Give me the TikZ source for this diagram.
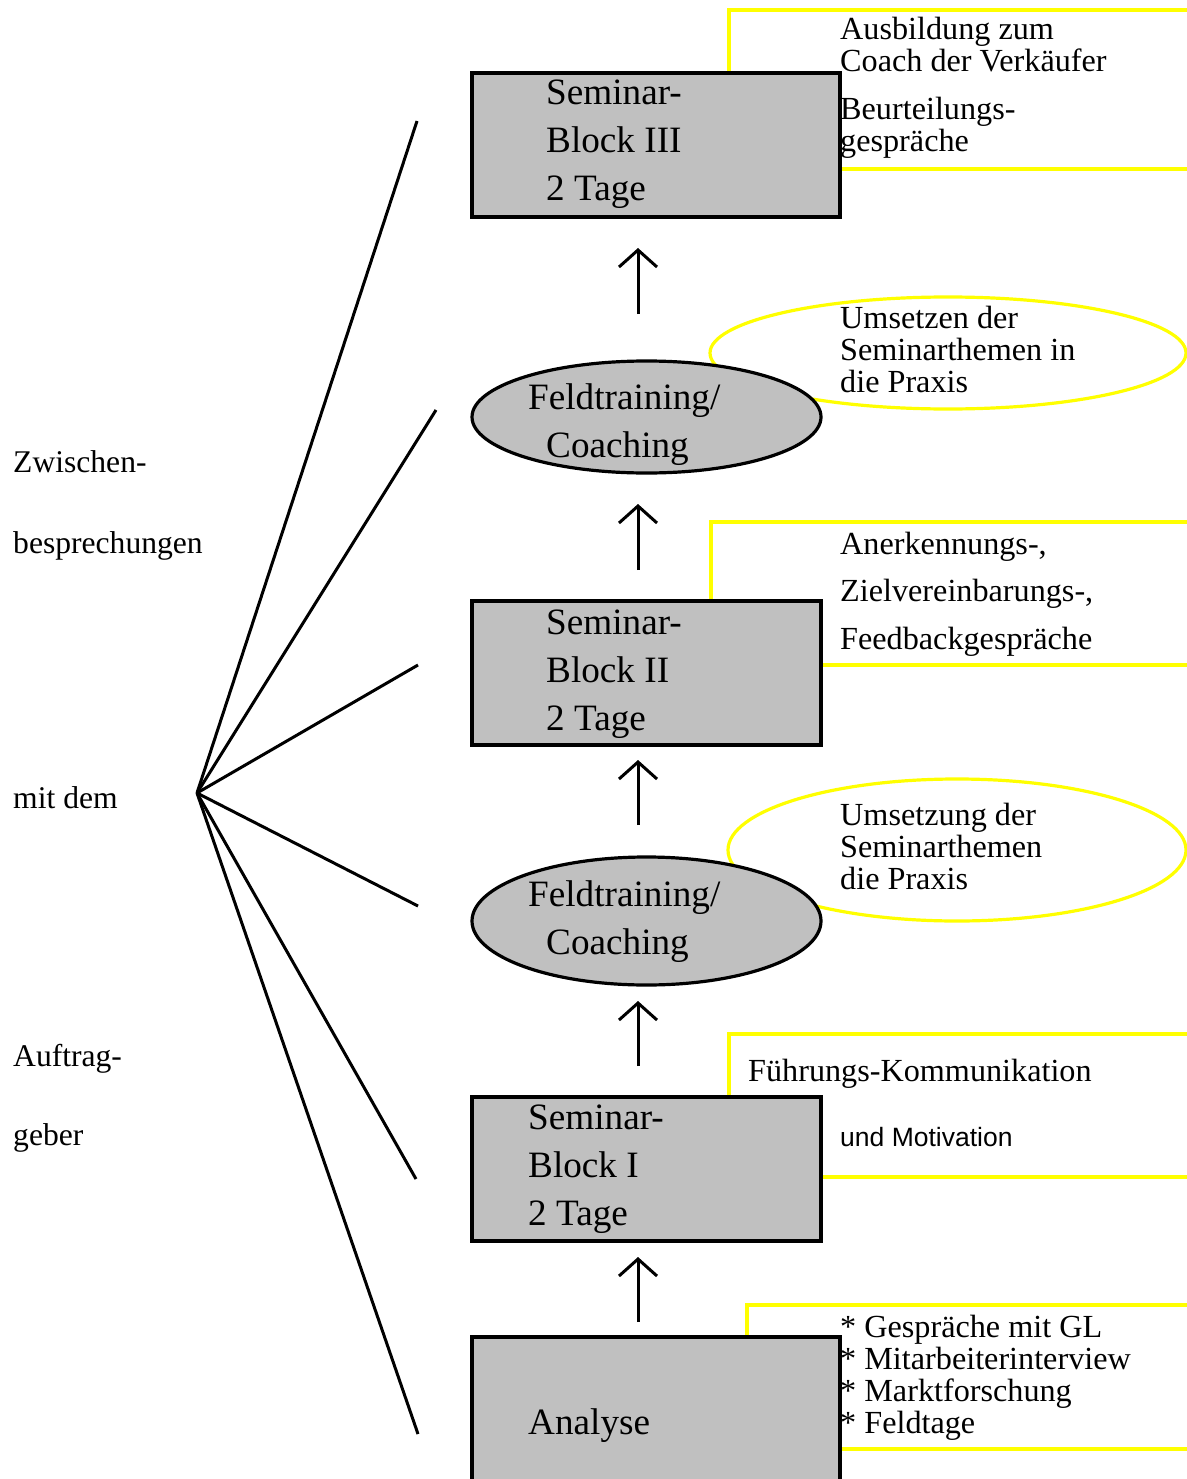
\documentclass[tikz,border=0pt]{standalone}
\usepackage{fontspec}
\setmainfont{Liberation Serif}
\newfontfamily\notesans{Liberation Sans}
\usepackage{xcolor}
\usetikzlibrary{arrows.meta,shapes.geometric}

\definecolor{boxgray}{RGB}{192,192,192}
\definecolor{noteyellow}{RGB}{255,255,0}

\tikzset{
  block/.style={draw=black, fill=boxgray, line width=3.2pt, rectangle, inner sep=0pt},
  phase/.style={draw=black, fill=boxgray, line width=3.2pt, ellipse, inner sep=0pt},
  note/.style={draw=noteyellow, line width=3.2pt},
  fan/.style={line width=3pt},
  uparrow/.style={-{Straight Barb[length=17pt,width=38pt,line width=3pt]}, line width=3pt},
  bigtext/.style={font=\fontsize{37.2}{48}\selectfont, anchor=base west, inner sep=0pt, align=left},
  smalltext/.style={font=\fontsize{31.6}{32}\selectfont, anchor=base west, inner sep=0pt, align=left},
  notetext/.style={smalltext, font=\fontsize{32.2}{32}\selectfont},
}

\begin{document}
\begin{tikzpicture}[x=1pt, y=-1pt]
\useasboundingbox (0,0) rectangle (1186,1479);
%%%%% Notes %%%%%
\draw[note] (1200,10) -| (729,169) -- (1200,169);
\draw[note] (1200,522) -| (711,665) -- (1200,665);
\draw[note] (1200,1034) -| (729,1177) -- (1200,1177);
\draw[note] (1200,1305) -| (747,1449) -- (1200,1449);
\draw[note] (948,353) ellipse [x radius=238pt, y radius=56pt];
\draw[note] (957,850) ellipse [x radius=229pt, y radius=71pt];

%%%%% Steps %%%%%
\node[block, minimum width=368pt, minimum height=144pt] (blockiii) at (656,145) {};
\node[phase, minimum width=349pt, minimum height=112pt] (feldii) at (646.5,417) {};
\node[block, minimum width=349pt, minimum height=144pt] (blockii) at (646.5,673) {};
\node[phase, minimum width=349pt, minimum height=128pt] (feldi) at (646.5,921) {};
\node[block, minimum width=349pt, minimum height=144pt] (blocki) at (646.5,1169) {};
\node[block, minimum width=368pt, minimum height=153pt] (analyse) at (656,1413.5) {};

%%%%% Arrows %%%%%
\foreach \i/\ya/\yb in {1/1322/1257, 2/1066/1001, 3/825/760, 4/570/504, 5/314/248}{
\coordinate (as\i) at (638,\ya);
\coordinate (ae\i) at (638,\yb);
\draw[uparrow] (as\i)--(ae\i);
}

%%%%% Fan %%%%%
\coordinate (hub) at (197,793);
\foreach \ex/\ey [count=\i] in {417/121, 436/410, 418/665, 418/906, 416/1179, 418/1434}{
\coordinate (fe\i) at (\ex,\ey);
\draw[fan] (hub)--(fe\i);
}

%%%%% Step labels (anchored at last baseline) %%%%%
\node[bigtext] (tblockiii) at (546,201) {Seminar-\\Block III\\2 Tage};
\node[bigtext] (tfeldii) at (528,457) {Feldtraining/\\\hspace*{18pt}Coaching};
\node[bigtext] (tblockii) at (546,730) {Seminar-\\Block II\\2 Tage};
\node[bigtext] (tfeldi) at (528,954) {Feldtraining/\\\hspace*{18pt}Coaching};
\node[bigtext] (tblocki) at (528,1225) {Seminar-\\Block I\\2 Tage};
\node[bigtext] (tanalyse) at (528,1434) {Analyse};

%%%%% Note labels %%%%%
\node[notetext] (nblockiii) at (840,152) {Ausbildung zum\\Coach der Verkäufer\\[16pt]Beurteilungs-\\gespräche};
\node[notetext] (nfeldii) at (840,392) {Umsetzen der\\Seminarthemen in\\die Praxis};
\node[notetext, font=\fontsize{32.2}{47.5}\selectfont] (nblockii) at (840,649) {Anerkennungs-,\\Zielvereinbarungs-,\\Feedbackgespräche};
\node[notetext] (nfeldi) at (840,889) {Umsetzung der\\Seminarthemen\\die Praxis};
\node[notetext] (nblocki) at (748,1081) {Führungs-Kommunikation};
\node[notetext, font=\notesans\fontsize{26.5}{28}\selectfont] (nblockib) at (840,1146) {und Motivation};
\node[notetext] (nanalyse) at (840,1433) {* Gespräche mit GL\\* Mitarbeiterinterview\\* Marktforschung\\* Feldtage};

%%%%% Left labels %%%%%
\node[smalltext] (lzw) at (13,472) {Zwischen-};
\node[smalltext] (lbe) at (13,553) {besprechungen};
\node[smalltext] (lmit) at (13,808) {mit dem};
\node[smalltext] (lauf) at (13,1066) {Auftrag-};
\node[smalltext] (lgeb) at (13,1145) {geber};
\end{tikzpicture}
\end{document}
